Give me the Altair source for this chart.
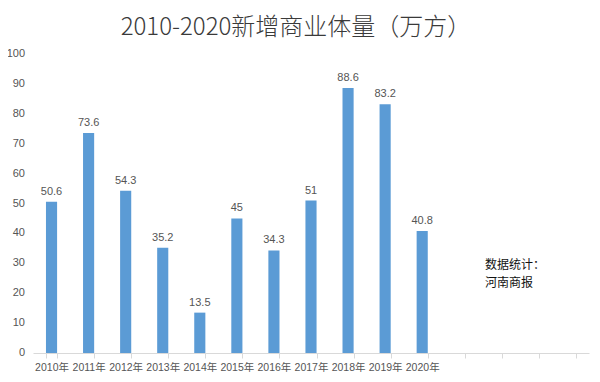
import altair as alt
import pandas as pd

years = ["2010年", "2011年", "2012年", "2013年", "2014年", "2015年",
         "2016年", "2017年", "2018年", "2019年", "2020年"]
values = [50.6, 73.6, 54.3, 35.2, 13.5, 45, 34.3, 51, 88.6, 83.2, 40.8]
value_labels = ["50.6", "73.6", "54.3", "35.2", "13.5", "45", "34.3", "51",
                "88.6", "83.2", "40.8"]
empty_slots = ["_a", "_b", "_c", "_d"]
y_ticks = [0, 10, 20, 30, 40, 50, 60, 70, 80, 90, 100]
title_text = "2010-2020新增商业体量（万方）"
note_lines = ["数据统计：", "河南商报"]
note_y = [29.5]

df = pd.DataFrame({"year": years, "value": values, "label": value_labels})
note_df = pd.DataFrame({"value": note_y, "t": [note_lines]})
tick_df = pd.DataFrame({"value": y_ticks, "t": [str(v) for v in y_ticks]})

FONT = "Liberation Sans, Noto Sans CJK SC, sans-serif"
CJK = "Noto Sans CJK SC"

x_enc = alt.X(
    "year:N",
    scale=alt.Scale(domain=years + empty_slots, paddingInner=0.7, paddingOuter=0.35),
    axis=alt.Axis(
        title=None, labelAngle=0, tickBand="extent", labelOverlap=False,
        labelExpr="indexof(datum.label, '年') >= 0 ? datum.label : ''",
        domainColor="#d9d9d9", tickColor="#d9d9d9", tickSize=5,
        labelColor="#555555", labelFontSize=10.5, labelFont=FONT, labelPadding=4,
    ),
)
y_axis = alt.Axis(
    title=None, values=y_ticks, grid=False, domain=False, ticks=False,
    labels=False,
)
y_enc = alt.Y("value:Q", scale=alt.Scale(domain=[0, 100], nice=False), axis=y_axis)

base = alt.Chart(df).encode(x=x_enc, y=y_enc)

bars = base.mark_bar(color="#5b9bd5")

labels = base.mark_text(
    baseline="bottom", dy=-5, fontSize=11, color="#555555", font=FONT
).encode(text="label:N")

ylabels = alt.Chart(tick_df).mark_text(
    align="right", baseline="middle", fontSize=11, color="#555555", font=FONT
).encode(x=alt.value(-8), y=y_enc, text="t:N")

note = alt.Chart(note_df).mark_text(
    align="left", baseline="middle", fontSize=12, color="#111111", font=CJK,
    lineHeight=18
).encode(x=alt.value(452), y=y_enc, text="t")

chart = (
    alt.layer(bars, labels, ylabels, note)
    .properties(
        width=556, height=299,
        title=alt.TitleParams(
            title_text, fontSize=24, font=CJK, fontWeight=300,
            color="#3a3a3a", anchor="middle", dx=-15, offset=8,
        ),
        autosize=alt.AutoSizeParams(type="none"),
        padding={"left": 25, "top": 46, "right": 3, "bottom": 21},
    )
    .configure_view(stroke=None)
)

chart.save("out.html", embed_options={"renderer": "svg", "actions": False})
